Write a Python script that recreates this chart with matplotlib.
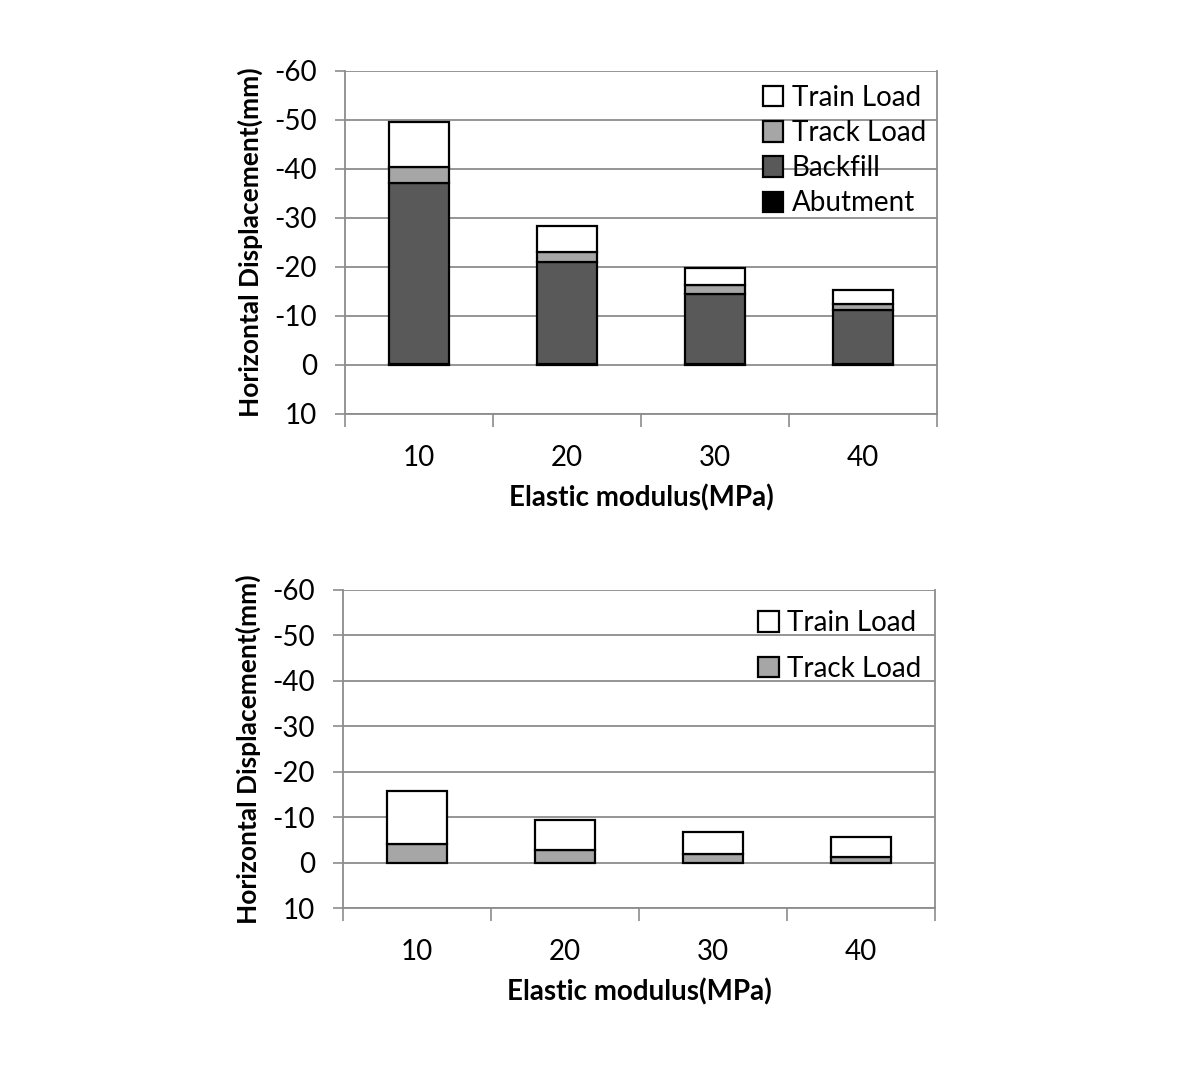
import matplotlib.pyplot as plt
import numpy as np

# Elastic modulus categories (MPa)
moduli = ["10", "20", "30", "40"]

# Top chart: horizontal displacement components (mm), negative = toward backfill
abutment = [-0.2, -0.2, -0.2, -0.2]
backfill = [-36.9, -20.8, -14.3, -11.1]
track_top = [-3.4, -2.1, -1.9, -1.2]
train_top = [-9.0, -5.2, -3.3, -2.9]

# Bottom chart: loads only
track_bot = [-4.2, -2.7, -1.8, -1.3]
train_bot = [-11.6, -6.6, -5.0, -4.3]

yticks = [-60, -50, -40, -30, -20, -10, 0, 10]

plt.rcParams['font.family'] = ['Lato', 'DejaVu Sans']

GRID = '#8c8c8c'


def style_axes(ax):
    ax.set_ylim(10, -60)
    ax.set_xlim(-0.5, 3.5)
    ax.set_yticks(yticks)
    ax.set_yticklabels([str(v) for v in yticks], fontsize=20)
    ax.set_xticks(range(len(moduli)))
    ax.set_xticklabels(moduli, fontsize=20)
    ax.tick_params(axis='x', length=0, pad=22)
    ax.set_xticks([-0.5, 0.5, 1.5, 2.5, 3.5], minor=True)
    ax.tick_params(axis='x', which='minor', length=9, color=GRID, width=1.2)
    ax.tick_params(axis='y', length=7, color=GRID, width=1.2, pad=13)
    ax.grid(axis='y', color=GRID, linewidth=1.3)
    ax.set_axisbelow(True)
    for s in ax.spines.values():
        s.set_color(GRID)
        s.set_linewidth(1.3)
    ax.spines['top'].set_visible(False)
    ax.set_xlabel("Elastic modulus(MPa)", fontsize=20, fontweight='bold', labelpad=10)
    ax.set_ylabel("Horizontal Displacement(mm)", fontsize=19, fontweight='bold', labelpad=8)


fig = plt.figure(figsize=(11.9, 10.77), dpi=100)

x = np.arange(len(moduli))
w = 0.4
ek = dict(edgecolor='black', linewidth=1.6)

# Top chart
ax1 = fig.add_axes([0.2899, 0.6156, 0.4975, 0.3185])
b = np.zeros(4)
h_ab = ax1.bar(x, abutment, w, bottom=b, color='black', label='Abutment', **ek)
b += abutment
h_bf = ax1.bar(x, backfill, w, bottom=b, color='#595959', label='Backfill', **ek)
b += backfill
h_tr = ax1.bar(x, track_top, w, bottom=b, color='#a6a6a6', label='Track Load', **ek)
b += track_top
h_tn = ax1.bar(x, train_top, w, bottom=b, color='white', label='Train Load', **ek)
style_axes(ax1)
ax1.legend([h_tn, h_tr, h_bf, h_ab], ['Train Load', 'Track Load', 'Backfill', 'Abutment'],
           loc='upper right', bbox_to_anchor=(1.005, 1.0), frameon=False, fontsize=20,
           handlelength=0.75, handleheight=0.75, handletextpad=0.3, labelspacing=0.33,
           borderaxespad=0.1)

# Bottom chart
ax2 = fig.add_axes([0.2882, 0.1569, 0.4975, 0.2953])
h2_tr = ax2.bar(x, track_bot, w, color='#a6a6a6', **ek)
h2_tn = ax2.bar(x, train_bot, w, bottom=track_bot, color='white', **ek)
style_axes(ax2)
ax2.legend([h2_tn, h2_tr], ['Train Load', 'Track Load'],
           loc='upper right', bbox_to_anchor=(1.0, 0.98), frameon=False, fontsize=20,
           handlelength=0.75, handleheight=0.75, handletextpad=0.3, labelspacing=0.7,
           borderaxespad=0.1)

fig.savefig('out.png', dpi=100)
